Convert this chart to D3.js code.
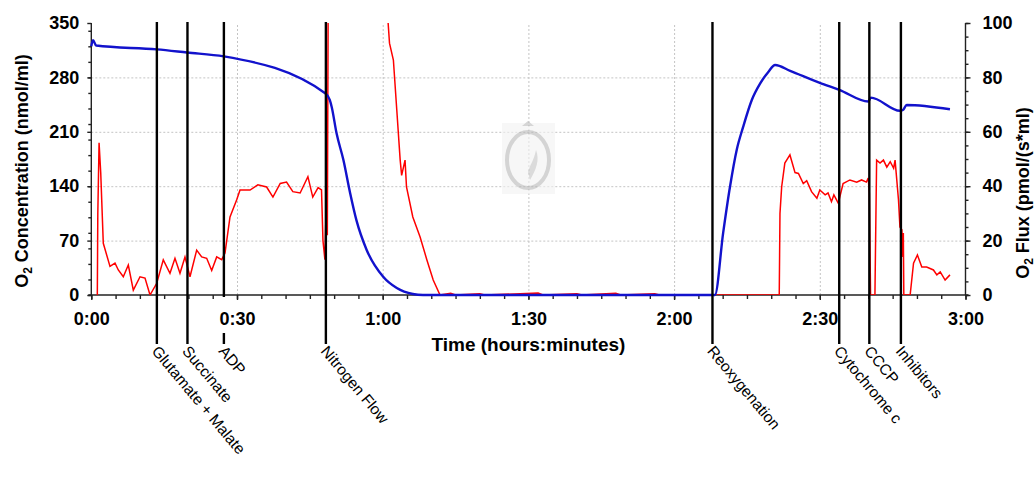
<!DOCTYPE html>
<html>
<head>
<meta charset="utf-8">
<script src="https://cdn.jsdelivr.net/npm/d3@7"></script>
<style>
  body { margin: 0; background: #fff; }
  svg { font-family: "Liberation Sans", Arial, sans-serif; }
  .tick text { font-weight: bold; font-size: 18px; fill: #000; }
  .axis path, .axis line { stroke: #222; stroke-width: 1.4; }
  .grid line { stroke: #c4c4c4; stroke-dasharray: 2,2; }
  .grid path { display: none; }
  .label { font-weight: bold; font-size: 18px; }
  .event { font-size: 15.5px; }
</style>
</head>
<body>
<svg width="1035" height="477"></svg>
<script>
// time in minutes
const concTime = [0, 0.35, 1.0, 13.5, 19.7, 27.3, 48.3, 49.1, 49.5, 50.5, 51.9, 53.3, 54.6, 56.7, 60.1, 62.9, 66.2, 68.3,
  128.4, 130.1, 131.5, 132.9, 134.2, 136.0, 137.7, 139.4, 140.8, 143.9, 150.0, 154.0, 160.0, 160.5, 166.5, 167.1, 167.9, 176.8];
const concVals = [320, 328, 321, 316, 312, 307, 259, 251, 242, 208, 174, 131, 96, 58, 23.5, 9, 1.3, 0,
  0, 80, 139, 187, 216, 251, 272, 287, 296, 288.5, 273, 264, 249, 254, 237, 238, 244.5, 239];

const fluxTime = [1.24, 1.34, 1.6, 1.94, 2.47, 3.85, 4.88, 5.56, 6.59, 7.62, 8.65, 10.03, 11.06, 12.09, 13.47, 14.82, 16.2,
  17.23, 18.26, 19.29, 20.32, 21.7, 22.73, 23.76, 24.79, 25.82, 26.85, 27.53, 28.56, 29.94, 30.62, 32.68, 34.3, 36.1,
  37.4, 38.9, 40.2, 41.5, 43.0, 44.6, 45.6, 46.7, 47.4, 47.7, 48.1, 48.4, 48.6, 48.84, 55, 61.1, 61.4, 62.2, 62.9,
  63.6, 63.9, 64.6, 64.9, 66.2, 67.7, 69.1, 70.4, 71.8, 74, 75, 80, 81, 92, 93, 100, 101, 108, 109, 116, 117, 125,
  141.65, 141.8, 142.15, 142.8, 143.85, 144.9, 145.6, 146.6, 147.3, 148.3, 149.4, 150.0, 151.1, 151.7, 152.4, 152.9,
  153.8, 154.8, 156.2, 157.6, 158.6, 159.6, 159.97, 160.2, 160.45, 161.35, 161.7, 162.4, 163.1, 163.8, 164.5, 165.2,
  165.5, 166.2, 166.5, 166.9, 167.1, 167.2, 167.3, 168.6, 169.3, 170.1, 171.0, 172.0, 173.4, 174.1, 174.8, 175.8, 176.8];
const fluxVals = [0, 30, 56, 45, 19, 10.5, 11.7, 9.2, 6.7, 11, 1.8, 6.7, 6.2, 0, 4.3, 12.9, 8,
  13.5, 8, 14, 6.7, 16.5, 14, 13.5, 9, 14, 13, 15.4, 28.7, 35, 38.6, 38.6, 40.5, 39.7,
  36, 41, 41.5, 38, 37.5, 43.5, 36, 39.5, 38.6, 20, 13, 36, 22, 140, 160, 100.5, 92.6, 86.4, 68,
  49.6, 44, 49.6, 39.7, 28.7, 21.3, 12.9, 5.5, 0, 0.6, 0, 0.5, 0, 0.7, 0, 0.5, 0, 0.6, 0, 0.5, 0, 0,
  0, 30, 39.8, 48.5, 51.5, 45, 44.7, 41, 42, 38, 35.6, 38.6, 36.8, 37.5, 34.3, 36.8,
  33.8, 41, 42.3, 41.5, 42.3, 41.5, 43, 37.5, 0, 0, 49.6, 48.5, 49.6, 47, 49, 46.6,
  49.6, 35, 25, 24, 14, 22.8, 0, 0, 11.7, 14.7, 10.3, 10.3, 9.2, 7.4, 8.5, 5.5, 7.4];

const events = ["Glutamate + Malate", "Succinate", "ADP", "Nitrogen Flow", "Reoxygenation", "Cytochrome c", "CCCP", "Inhibitors"];
const eventTime = [13.5, 19.8, 27.3, 48.3, 127.9, 154.0, 160.2, 166.7];

const xTicks = [0, 30, 60, 90, 120, 150, 180];
const concTicks = [0, 70, 140, 210, 280, 350];
const fluxTicks = [0, 20, 40, 60, 80, 100];

const svg = d3.select("svg");
const pL = 91.3, pR = 965.5, pT = 23, pB = 295;

const x = d3.scaleLinear().domain([0, 180]).range([pL, pR]);
const yC = d3.scaleLinear().domain([0, 350]).range([pB, pT]);
const yF = d3.scaleLinear().domain([0, 100]).range([pB, pT]);

const fmt = m => Math.floor(m / 60) + ":" + String(m % 60).padStart(2, "0");

svg.append("defs").append("clipPath").attr("id", "clip")
  .append("rect").attr("x", pL).attr("y", pT).attr("width", pR - pL).attr("height", pB - pT);

// grid
svg.append("g").attr("class", "grid")
  .attr("transform", `translate(0,${pB})`)
  .call(d3.axisBottom(x).tickValues(xTicks.slice(1, -1)).tickSize(-(pB - pT)).tickFormat(""));
svg.append("g").attr("class", "grid")
  .attr("transform", `translate(${pL},0)`)
  .call(d3.axisLeft(yC).tickValues(concTicks.slice(1, -1)).tickSize(-(pR - pL)).tickFormat(""));

// watermark
const wm = svg.append("g").attr("opacity", 0.6);
wm.append("rect").attr("x", 502).attr("y", 123).attr("width", 53).attr("height", 71).attr("fill", "#f3f3f3");
wm.append("ellipse").attr("cx", 528).attr("cy", 160).attr("rx", 21).attr("ry", 28)
  .attr("fill", "none").attr("stroke", "#b8b8b8").attr("stroke-width", 4);
wm.append("path").attr("d", "M522,126 L528,121 L534,126 Z").attr("fill", "#bbb");
wm.append("path").attr("d", "M530,180 C536,170 540,160 536,150 C534,160 530,165 528,172 Z").attr("fill", "#c4c4c4");

// axes
svg.append("g").attr("class", "axis")
  .attr("transform", `translate(0,${pB})`)
  .call(d3.axisBottom(x).ticks(30).tickSize(4).tickFormat(""))
  .call(g => g.select(".domain").remove());
svg.append("g").attr("class", "axis")
  .attr("transform", `translate(0,${pB})`)
  .call(d3.axisBottom(x).tickValues(xTicks).tickSize(5).tickPadding(12).tickFormat(fmt))
  .call(g => g.select(".domain").attr("d", `M${pL - 3},0H${pR + 3}`));

svg.append("g").attr("class", "axis")
  .attr("transform", `translate(${pL},0)`)
  .call(d3.axisLeft(yC).ticks(20).tickSize(3).tickFormat(""))
  .call(g => g.select(".domain").remove());
svg.append("g").attr("class", "axis")
  .attr("transform", `translate(${pL},0)`)
  .call(d3.axisLeft(yC).tickValues(concTicks).tickSize(4).tickPadding(8))
  .call(g => g.select(".domain").attr("d", `M0,${pT}V${pB}`));

svg.append("g").attr("class", "axis")
  .attr("transform", `translate(${pR},0)`)
  .call(d3.axisRight(yF).ticks(20).tickSize(3).tickFormat(""))
  .call(g => g.select(".domain").remove());
svg.append("g").attr("class", "axis")
  .attr("transform", `translate(${pR},0)`)
  .call(d3.axisRight(yF).tickValues(fluxTicks).tickSize(5).tickPadding(12))
  .call(g => g.select(".domain").attr("d", `M0,${pT}V${pB}`));

// traces
const conc = concTime.map((t, i) => [t, concVals[i]]);
const flux = fluxTime.map((t, i) => [t, fluxVals[i]]);

svg.append("path").datum(flux)
  .attr("clip-path", "url(#clip)")
  .attr("fill", "none").attr("stroke", "#ff0000").attr("stroke-width", 1.5)
  .attr("d", d3.line().x(d => x(d[0])).y(d => yF(d[1])));

svg.append("path").datum(conc)
  .attr("fill", "none").attr("stroke", "#1212cc").attr("stroke-width", 2.4)
  .attr("d", d3.line().curve(d3.curveMonotoneX).x(d => x(d[0])).y(d => yC(d[1])));

// event markers
const ev = svg.selectAll(".ev").data(events).enter().append("g");
ev.append("line")
  .attr("x1", (d, i) => x(eventTime[i])).attr("x2", (d, i) => x(eventTime[i]))
  .attr("y1", pT - 1).attr("y2", (d, i) => d == "ADP" ? 297 : 344)
  .attr("stroke", "#000").attr("stroke-width", 2.4);
ev.filter(d => d == "ADP").append("line")
  .attr("x1", x(eventTime[2])).attr("x2", x(eventTime[2]))
  .attr("y1", 333).attr("y2", 344)
  .attr("stroke", "#000").attr("stroke-width", 2.4);
ev.append("text").attr("class", "event")
  .attr("transform", (d, i) => `translate(${x(eventTime[i]) + 3},344) rotate(50)`)
  .attr("dy", "0.75em")
  .text(d => d);

// axis titles
svg.append("text").attr("class", "label")
  .attr("transform", `translate(28,${(pT + pB) / 2 + 12}) rotate(-90)`)
  .attr("text-anchor", "middle")
  .html('O<tspan font-size="12" dy="4">2</tspan><tspan dy="-4"> Concentration (nmol/ml)</tspan>');
svg.append("text").attr("class", "label")
  .attr("transform", `translate(1029,${(pT + pB) / 2 + 34}) rotate(-90)`)
  .attr("text-anchor", "middle")
  .html('O<tspan font-size="12" dy="4">2</tspan><tspan dy="-4"> Flux (pmol/(s*ml)</tspan>');
svg.append("text").attr("class", "label")
  .attr("x", (pL + pR) / 2).attr("y", 351)
  .attr("text-anchor", "middle")
  .style("font-size", "19px")
  .text("Time (hours:minutes)");
</script>
</body>
</html>
